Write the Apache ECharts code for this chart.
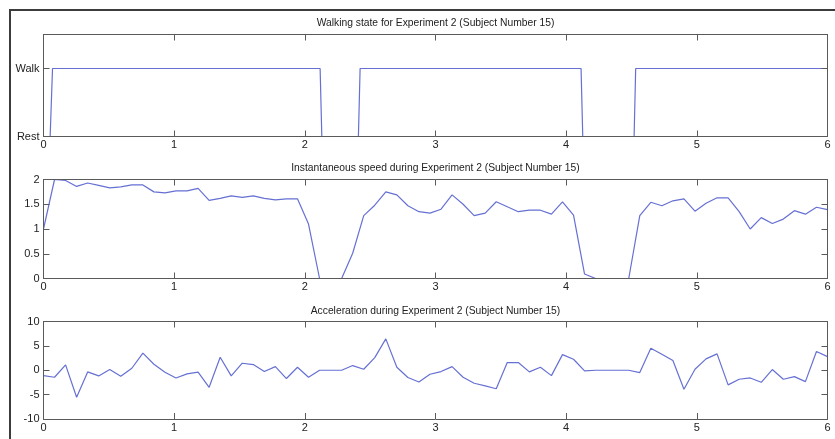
<!DOCTYPE html>
<html>
<head>
<meta charset="utf-8">
<script src="https://cdn.jsdelivr.net/npm/echarts@6/dist/echarts.min.js"></script>
<style>
html,body{margin:0;padding:0;background:#fff;}
#chart{width:835px;height:439px;}
</style>
</head>
<body>
<div id="chart"></div>
<script>
// ---- data ----
const titles = [
  'Walking state for Experiment 2 (Subject Number 15)',
  'Instantaneous speed during Experiment 2 (Subject Number 15)',
  'Acceleration during Experiment 2 (Subject Number 15)'
];
const walkTime  = [0, 0.051, 0.069, 2.117, 2.130, 2.410, 2.423, 4.114, 4.127, 4.520, 4.532, 6];
const walkState = [0, 0, 1, 1, 0, 0, 1, 1, 0, 0, 1, 1];
const walkLabels = ['Rest', 'Walk'];

const time = [
  0.0000, 0.0845, 0.1690, 0.2535, 0.3380, 0.4225, 0.5070, 0.5915, 0.6761, 0.7606,
  0.8451, 0.9296, 1.0141, 1.0986, 1.1831, 1.2676, 1.3521, 1.4366, 1.5211, 1.6056,
  1.6901, 1.7746, 1.8592, 1.9437, 2.0282, 2.1127, 2.1972, 2.2817, 2.3662, 2.4507,
  2.5352, 2.6197, 2.7042, 2.7887, 2.8732, 2.9577, 3.0423, 3.1268, 3.2113, 3.2958,
  3.3803, 3.4648, 3.5493, 3.6338, 3.7183, 3.8028, 3.8873, 3.9718, 4.0563, 4.1408,
  4.2254, 4.3099, 4.3944, 4.4789, 4.5634, 4.6479, 4.7324, 4.8169, 4.9014, 4.9859,
  5.0704, 5.1549, 5.2394, 5.3239, 5.4085, 5.4930, 5.5775, 5.6620, 5.7465, 5.8310,
  5.9155, 6.0000
];
const speed = [
  1.00, 2.00, 1.98, 1.86, 1.93, 1.88, 1.83, 1.85, 1.89, 1.89,
  1.75, 1.73, 1.77, 1.77, 1.82, 1.58, 1.62, 1.67, 1.64, 1.67,
  1.62, 1.59, 1.61, 1.61, 1.10, 0.00, 0.00, 0.00, 0.51, 1.27,
  1.48, 1.75, 1.69, 1.47, 1.35, 1.32, 1.40, 1.69, 1.50, 1.27,
  1.32, 1.55, 1.45, 1.35, 1.38, 1.38, 1.30, 1.55, 1.28, 0.09,
  0.00, 0.00, 0.00, 0.00, 1.27, 1.54, 1.47, 1.57, 1.61, 1.36,
  1.52, 1.63, 1.63, 1.35, 1.00, 1.23, 1.11, 1.20, 1.37, 1.30,
  1.44, 1.39
];
const accel = [
  -1.10, -1.44, 1.10, -5.55, -0.34, -1.16, 0.14, -1.23, 0.41, 3.50,
  1.23, -0.40, -1.58, -0.75, -0.40, -3.50, 2.67, -1.16, 1.44, 1.16,
  -0.27, 0.75, -1.70, 0.62, -1.44, 0.00, 0.00, 0.00, 0.96, 0.20,
  2.60, 6.44, 0.62, -1.50, -2.40, -0.82, -0.27, 0.75, -1.44, -2.67,
  -3.20, -3.80, 1.58, 1.58, -0.34, 0.62, -1.10, 3.20, 2.26, -0.14,
  0.00, 0.00, 0.00, 0.00, -0.48, 4.50, 3.30, 2.00, -3.90, 0.20,
  2.33, 3.36, -3.00, -1.85, -1.58, -2.47, 0.14, -1.85, -1.30, -2.33,
  3.84, 2.80
];
const yRanges = [
  {min: 0, max: 1.5, interval: 1},
  {min: 0, max: 2, interval: 0.5},
  {min: -10, max: 10, interval: 5}
];

// ---- layout ----
const PLOT_LEFT = 43.5, PLOT_W = 784;
const grids = [
  {top: 34.5, height: 102},
  {top: 179.5, height: 99},
  {top: 321.5, height: 97.5}
];
const titleY = [23.5, 168.3, 311];
const LINE = '#6670d3';
const AXIS = '#5a5a5a';
const FONT = 'Liberation Sans, Arial, sans-serif';

const zip = (xs, ys) => xs.map((x, i) => [x, ys[i]]);
const seriesData = [zip(walkTime, walkState), zip(time, speed), zip(time, accel)];

const option = {
  animation: false,
  backgroundColor: '#ffffff',
  grid: grids.map(g => ({left: PLOT_LEFT, top: g.top, width: PLOT_W, height: g.height})),
  xAxis: [],
  yAxis: [],
  series: [],
  graphic: []
};

for (let i = 0; i < 3; i++) {
  const tick = {show: true, inside: true, length: 6, lineStyle: {color: AXIS, width: 1}};
  const axLine = {show: true, onZero: false, lineStyle: {color: AXIS, width: 1}};
  option.xAxis.push({
    type: 'value', gridIndex: i, position: 'bottom', min: 0, max: 6, interval: 1, z: 5,
    axisLine: axLine, axisTick: tick, splitLine: {show: false},
    axisLabel: {show: true, color: '#222', fontSize: 11, fontFamily: FONT, margin: 3}
  });
  option.xAxis.push({
    type: 'value', gridIndex: i, position: 'top', min: 0, max: 6, interval: 1, z: 5,
    axisLine: axLine, axisTick: tick, splitLine: {show: false}, axisLabel: {show: false}
  });
  const yr = yRanges[i];
  option.yAxis.push({
    type: 'value', gridIndex: i, position: 'left', min: yr.min, max: yr.max, interval: yr.interval, z: 5,
    axisLine: axLine, axisTick: tick, splitLine: {show: false},
    axisLabel: {
      show: true, color: '#222', fontSize: 11, fontFamily: FONT, margin: 4,
      showMaxLabel: i !== 0,
      formatter: i === 0 ? (v => (walkLabels[v] !== undefined ? walkLabels[v] : '')) : (v => String(v))
    }
  });
  option.yAxis.push({
    type: 'value', gridIndex: i, position: 'right', min: yr.min, max: yr.max, interval: yr.interval, z: 5,
    axisLine: axLine, axisTick: tick, splitLine: {show: false}, axisLabel: {show: false}
  });
  option.series.push({
    type: 'line', xAxisIndex: i * 2, yAxisIndex: i * 2, data: seriesData[i],
    showSymbol: false, symbol: 'none', clip: true, z: 2,
    lineStyle: {color: LINE, width: 1.2}
  });
  option.graphic.push({
    type: 'text',
    style: {
      text: titles[i], x: PLOT_LEFT + PLOT_W / 2, y: titleY[i],
      textAlign: 'center', textVerticalAlign: 'middle',
      font: '10.3px ' + FONT, fill: '#222'
    }
  });
}
option.graphic.push({
  type: 'rect', z: 10,
  shape: {x: 10, y: 10, width: 900, height: 600},
  style: {fill: 'none', stroke: '#3c3c3c', lineWidth: 2}
});

const chart = echarts.init(document.getElementById('chart'), null, {renderer: 'canvas'});
chart.setOption(option);
</script>
</body>
</html>
